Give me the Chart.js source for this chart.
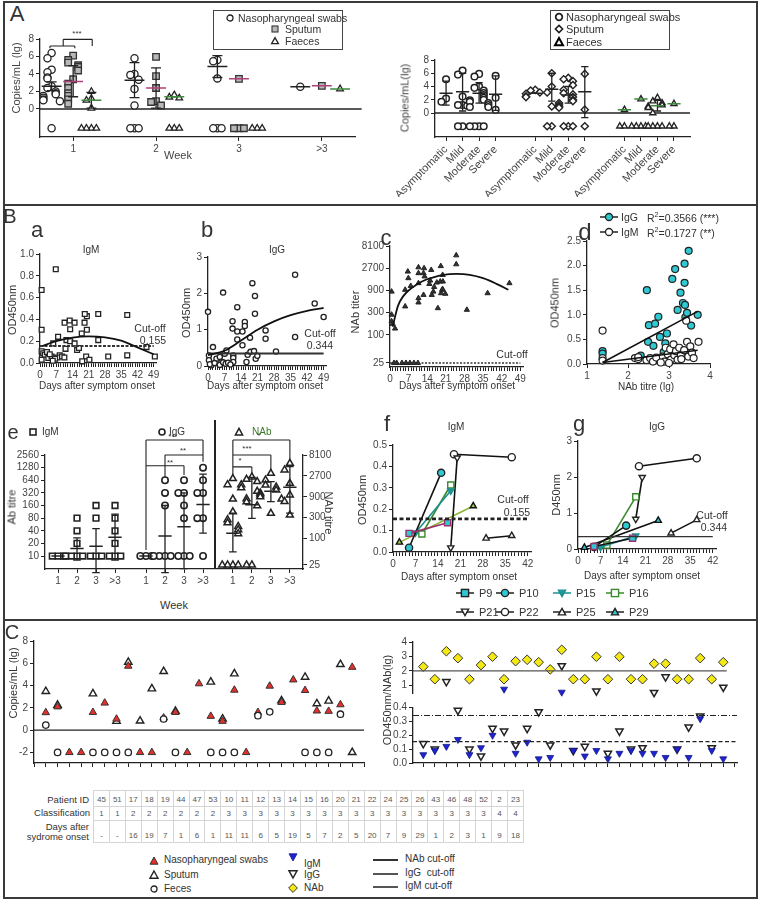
<!DOCTYPE html>
<html>
<head>
<meta charset="utf-8">
<script src="https://cdn.jsdelivr.net/npm/chart.js@4.4.1/dist/chart.umd.min.js"></script>
<style>
  body { margin: 0; background: #fff; }
  #fig { position: relative; width: 762px; height: 902px; overflow: hidden; font-family: 'Liberation Sans', Arial, sans-serif; color: #333; }
  .t { position: absolute; white-space: nowrap; line-height: 1; }
  .ln { position: absolute; background: #3a3a3a; }
  table.pt { position: absolute; left: 93px; top: 790px; width: 431px; table-layout: fixed; border-collapse: collapse; font-size: 8px; color: #555; }
  table.pt td { border: 1px solid #d5d5d5; text-align: center; vertical-align: bottom; padding: 0 0 2px 0; }
</style>
</head>
<body>
<div id="fig"></div>
<script>
// ---------- data : panel A (viral load, lg copies/mL; -2.2 / -2 = undetected row) ----------
const weekLabels = ['1', '2', '3', '>3'];
const npWeek = [
  [6.4, 5.8, 4.5, 4.2, 3.6, 3.5, 2.6, 2.4, 2.0, 1.8, 1.7, 1.5, 1.3, 1.1, 1.0, 0.9, -2.2],
  [5.8, 4.0, 3.9, 3.35, 2.3, 0.4, -2.2, -2.2, -2.2],
  [5.6, 5.45, 3.5, -2.2, -2.2, -2.2],
  [2.55]
];
const sputumWeek = [
  [6.1, 5.6, 5.3, 5.0, 4.8, 4.4, 3.4, 2.9, 2.4, 1.8, 1.5, 1.1, 0.6],
  [5.95, 3.75, 2.4, 0.9, 0.8, 0.4],
  [3.45, -2.2, -2.2, -2.2],
  [2.65]
];
const faecesWeek = [
  [2.0, 1.2, 1.0, 0.1, -2.2, -2.2, -2.2, -2.2],
  [1.6, 1.35, 1.25, -2.2, -2.2, -2.2],
  [-2.2, -2.2, -2.2],
  [2.3]
];
const npWeekMean = [2.6, 3.3, 4.85, 2.55];
const npWeekLow = [2.1, 1.3, 3.6, null];
const npWeekHigh = [3.1, 5.3, 6.1, null];
const sputumWeekMean = [3.15, 2.4, 3.45, 2.65];
const sputumWeekLow = [1.4, 0.1, null, null];
const sputumWeekHigh = [4.95, 4.7, null, null];
const faecesWeekMean = [1.0, 1.4, null, 2.3];
const faecesWeekLow = [0.1, null, null, null];
const faecesWeekHigh = [1.9, null, null, null];

const severity = ['Asymptomatic', 'Mild', 'Moderate', 'Severe'];
const npSev = [
  [5.1, 2.2, 1.7],
  [6.4, 5.8, 2.5, 1.2, 1.2, 1.1, -2, -2],
  [5.9, 5.5, 4.0, 3.8, 3.4, 3.0, 2.7, 2.3, 2.0, 1.9, 1.7, 1.5, 1.2, 0.9, 0.9, -2, -2, -2, -2],
  [5.6, 2.3, 0.5]
];
const sputumSev = [
  [3.5, 3.4, 3.1, 2.9, 2.5, 2.4],
  [6.0, 4.0, 3.1, 1.0, -2, -2],
  [5.3, 5.1, 4.8, 4.2, 3.5, 3.0, 2.8, 2.4, 2.0, 1.8, 1.5, 1.2, 1.0, 0.8, -2, -2, -2],
  [5.9, 0.5, -2]
];
const faecesSev = [
  [0.5, -2, -2],
  [2.1, -2, -2, -2, -2],
  [2.3, 1.8, 1.5, 1.2, 1.0, 0.8, 0.0, -2, -2, -2, -2],
  [1.4, -2, -2]
];
const npSevMean = [3.0, 3.2, 3.0, 2.85];
const npSevLow = [1.2, 0.3, 1.5, 0.4];
const npSevHigh = [4.8, 6.0, 4.6, 5.6];
const sputumSevMean = [3.0, 3.6, 2.7, 3.2];
const sputumSevLow = [null, 1.8, 1.5, -0.7];
const sputumSevHigh = [null, 6.0, 4.0, 7.0];
const faecesSevMean = [0.5, 2.1, 1.1, 1.4];
const faecesSevLow = [null, null, 0.3, null];
const faecesSevHigh = [null, null, 1.9, null];

// ---------- data : panel B ----------
const igmDays = [0.7, 0.7, 6.8, 0.7, 1.4, 2.1, 0.7, 3.6, 5, 5.7, 7.8, 10.6, 12.8, 13, 14.9, 11.4, 13, 14.9, 11, 16, 16.8, 18, 19.2, 20.2, 19.3, 20.2, 19.9, 21.3, 18.2, 25.1, 25.1, 29.4, 37.6, 37.6, 45.9, 49.5, 8.5, 7.5, 9.5, 10.5, 6.5, 5.5, 3, 4.2];
const igmOD = [0.67, 0.305, 0.86, 0.107, 0.09, 0.076, 0.03, 0.046, 0.06, 0.18, 0.24, 0.37, 0.39, 0.31, 0.37, 0.21, 0.2, 0.18, 0.13, 0.12, 0.137, 0.27, 0.37, 0.43, 0.45, 0.305, 0.06, 0.03, 0.015, 0.45, 0.21, 0.06, 0.44, 0.07, 0.146, 0.06, 0.07, 0.05, 0.06, 0.05, 0.04, 0.02, 0.1, 0.08];
const igmFitDays = [1, 7, 14, 21, 28, 35, 42, 49];
const igmFitOD = [0.155, 0.2, 0.233, 0.245, 0.236, 0.205, 0.143, 0.08];

const iggDays = [0, 2.1, 0.4, 0.4, 1.4, 3.6, 6.4, 5, 5.7, 7.1, 7.8, 10.4, 10.4, 10.7, 10.7, 10.7, 12.4, 12.4, 14.6, 12.4, 14.6, 15.6, 15.6, 16.3, 16.8, 17.8, 18, 18.8, 19.5, 19.9, 19.9, 20.2, 20.9, 24.4, 24.4, 28.8, 36.9, 36.9, 45.2, 49, 0.8, 2.8, 5, 6.4, 7.5, 8.5, 9.5];
const iggOD = [1.49, 0.52, 0.29, 0.16, 0.02, 0.2, 2.02, 0.25, 0.11, 0.34, 0.43, 1.23, 1.03, 0.29, 0.22, 0.11, 1.62, 0.95, 0.95, 0.73, 0.57, 1.21, 1.1, 0.11, 0.31, 0.78, 0.39, 2.28, 0.41, 1.93, 1.44, 0.2, 0.28, 0.98, 0.75, 0.4, 2.51, 0.8, 1.72, 1.35, 0.05, 0.08, 0.03, 0.1, 0.06, 0.09, 0.04];
const iggFitDays = [0, 7, 14, 21, 28, 35, 42, 49];
const iggFitOD = [0.3, 0.42, 0.7, 1.0, 1.23, 1.4, 1.52, 1.6];

const nabDays = [0.6, 0.6, 0.6, 1.0, 1.9, 5.7, 5.7, 6.7, 6.9, 7.8, 10.7, 10.7, 10.7, 10.7, 10.7, 12.6, 12.6, 12.8, 13, 15.1, 14.8, 15.5, 16.3, 16.6, 15.7, 17.6, 18, 18.9, 19.1, 19.2, 19.6, 19.9, 19.8, 20.8, 19.8, 24.9, 24.9, 28.9, 36.7, 44.9];
const nabTiter = [850, 272, 196, 173, 137, 930, 409, 2290, 1650, 1125, 2820, 2115, 1290, 615, 497, 2115, 723, 2700, 1800, 1470, 1240, 2480, 850, 1070, 723, 1330, 375, 1400, 3000, 786, 930, 1400, 960, 764, 1940, 5100, 3280, 346, 786, 1290];
const nabLowDays = [1.5, 2.5, 4.5, 6, 7.5, 9, 10.5];
const nabLowTiter = [25, 25, 25, 25, 25, 25, 25];
const nabFitDays = [1, 3, 5, 8, 12, 16, 20, 25, 30, 35, 40, 44.5];
const nabFitTiter = [150, 420, 680, 1000, 1400, 1700, 1950, 2050, 1950, 1650, 1250, 930];

const corrIgGX = [1.38, 1.38, 2.31, 2.46, 2.51, 2.49, 2.62, 2.66, 2.74, 2.78, 2.87, 2.95, 2.91, 3.08, 3.15, 3.21, 3.28, 3.34, 3.38, 3.38, 3.39, 3.40, 3.44, 3.48, 3.54, 3.7];
const corrIgGY = [0.26, 0.21, 0.17, 1.5, 0.79, 0.45, 0.37, 0.82, 0.96, 0.55, 0.24, 0.62, 0.42, 1.73, 1.93, 1.1, 1.45, 1.24, 2.04, 1.65, 1.2, 0.95, 1.04, 2.3, 0.78, 1.0];
const corrIgMX = [1.38, 1.38, 1.38, 2.17, 2.25, 2.25, 2.45, 2.54, 2.61, 2.69, 2.85, 2.89, 2.92, 2.97, 3.03, 3.05, 3.11, 3.13, 3.17, 3.21, 3.25, 3.29, 3.37, 3.42, 3.44, 3.47, 3.52, 3.56, 3.72, 2.8, 3.0, 3.3, 3.6];
const corrIgMY = [0.68, 0.12, 0.07, 0.12, 0.1, 0.14, 0.08, 0.12, 0.05, 0.13, 0.15, 0.05, 0.33, 0.2, 0.3, 0.09, 0.4, 0.18, 0.26, 0.09, 0.33, 0.18, 0.28, 0.88, 0.45, 0.15, 0.36, 0.23, 0.45, 0.03, 0.02, 0.1, 0.12];
const corrFitX = [1.38, 3.7];
const corrIgGFit = [0.03, 1.07];
const corrIgMFit = [0.03, 0.28];

const titreIgM = [[10, 10, 10], [80, 40, 20, 10, 10, 10, 10], [160, 80, 10, 10, 10], [160, 80, 40, 20, 10, 10, 10]];
const titreIgG = [[10, 10, 10], [640, 320, 160, 10, 10, 10, 10], [640, 320, 320, 160, 80, 10, 10, 10], [1280, 640, 320, 320, 80, 80, 10]];
const titreNAb = [[2350, 1700, 800, 410, 270, 230, 190, 160, 130, 25, 25, 25, 25], [2560, 2250, 2000, 1700, 1440, 1200, 810, 690, 560, 25, 25], [3090, 2170, 1670, 1500, 1280, 1100, 1000, 900, 800, 378], [5230, 3690, 1830, 990, 700, 346]];
const titreIgMMean = [10, 15, 17, 28];
const titreIgMLow = [null, 8, 4, 8];
const titreIgMHigh = [null, 27, 45, 100];
const titreIgGMean = [10, 30, 50, 170];
const titreIgGLow = [null, 4, 5, 35];
const titreIgGHigh = [null, 160, 320, 900];
const titreNAbMean = [132, 590, 1200, 1480];
const titreNAbLow = [50, 290, 700, 380];
const titreNAbHigh = [380, 2500, 2000, 4400];

const trackIds = ['P9', 'P10', 'P15', 'P16', 'P21', 'P22', 'P25', 'P29'];
const trackDaysM = [[5, 17], [5, 15], [7, 18], [9, 18], [18, 20], [19, 37], [29, 37], [2, 25]];
const trackIgM = [[0.087, 0.137], [0.02, 0.37], [0.09, 0.286], [0.084, 0.313], [0.02, 0.44], [0.457, 0.443], [0.064, 0.076], [0.045, 0.215]];
const trackDaysG = [[5, 17], [5, 15], [7, 18], [9, 18], [18, 20], [19, 37], [29, 37], [2, 25]];
const trackIgG = [[0.07, 0.3], [0.06, 0.65], [0.05, 0.37], [0.11, 1.45], [0.83, 1.99], [2.3, 2.52], [0.44, 0.81], [0.04, 0.79]];

// ---------- data : panel C (one value per patient, null = not shown) ----------
const patientIds = ['45', '51', '17', '18', '19', '44', '47', '53', '10', '11', '12', '13', '14', '15', '16', '20', '21', '22', '24', '25', '26', '43', '46', '48', '52', '2', '23'];
const patientClass = ['1', '1', '2', '2', '2', '2', '2', '2', '3', '3', '3', '3', '3', '3', '3', '3', '3', '3', '3', '3', '3', '3', '3', '3', '3', '4', '4'];
const patientDays = ['-', '-', '16', '19', '7', '1', '6', '1', '11', '11', '6', '5', '19', '5', '7', '2', '5', '20', '7', '9', '29', '1', '2', '3', '1', '9', '18'];
const pNP = [1.58, 2.1, -2, -2, 1.6, 2.44, 1.0, 5.75, -2, -2, 1.1, 1.6, -2, 4.17, 1.25, 0.8, 3.6, -2, 1.6, 3.96, 2.5, 4.52, 3.57, 1.73, 1.7, 2.29, 5.65];
const pSputum = [3.48, 2.25, null, null, 3.27, null, 0.8, 6.1, 0.83, 3.72, 5.27, 1.7, null, null, 4.32, 1.0, 5.06, null, null, null, 2.65, null, 4.76, 2.38, 2.62, 5.9, -2];
const pFeces = [0.45, -2, null, null, -2, -2, -2, -2, null, null, 1.0, -2, null, null, -2, -2, -2, null, 1.3, 1.64, null, null, -2, -2, -2, 1.43, null];
const pNAb = [2.29, 1.42, 3.36, 2.88, 1.42, 2.4, 2.98, 1.42, 2.67, 2.77, 2.6, 2.1, 3.46, 1.42, 1.42, 2.98, 1.42, 2.98, 1.42, 1.42, 2.5, 2.5, 1.42, 1.42, 2.88, 1.42, 2.6];
const pIgG = [0.14, 0.10, 1.25, 0.38, 0.10, 0.05, 0.25, 0.23, 0.13, 0.25, 0.37, 0.13, 2.35, 0.09, 0.12, 0.6, 0.07, 0.23, 0.10, 0.11, 0.5, 1.58, 0.10, 0.26, 0.34, 0.11, 0.86];
const pIgM = [0.06, 0.09, 0.12, 0.17, 0.06, 0.11, 0.20, 0.73, 0.07, 0.15, 0.03, 0.04, 0.52, 0.09, 0.05, 0.09, 0.03, 0.07, 0.09, 0.07, 0.07, 0.04, 0.10, 0.04, 0.32, 0.09, 0.03];
const cutNAb = 2, cutIgG = 0.344, cutIgM = 0.155;

// ---------- helpers ----------
const INK = '#222';
const FONT = "'Liberation Sans', Arial, sans-serif";
const CYAN = '#2fc9d3', RED = '#e5302a', BLUE = '#1f22d6', YELLOW = '#f4e815';
const fig = document.getElementById('fig');

function txt(s, x, y, o) {
  o = o || {};
  const d = document.createElement('div');
  d.className = 't';
  d.innerHTML = s;
  const tx = o.align === 'l' ? '0' : (o.align === 'r' ? '-100%' : '-50%');
  d.style.left = x + 'px';
  d.style.top = y + 'px';
  d.style.fontSize = (o.size || 10) + 'px';
  d.style.color = o.color || '#333';
  if (o.weight) d.style.fontWeight = o.weight;
  d.style.transform = 'translate(' + tx + ',-50%)' + (o.rot ? ' rotate(' + o.rot + 'deg)' : '');
  fig.appendChild(d);
}
function box(x, y, w, h, css) {
  const d = document.createElement('div');
  d.className = 'ln';
  d.style.cssText = 'left:' + x + 'px;top:' + y + 'px;width:' + w + 'px;height:' + h + 'px;' + (css || '');
  fig.appendChild(d);
}
function mark(shape, fill, stroke, r, sw, lineW, lineColor) {
  const W = lineW || 2 * r + 4, H = 2 * r + 4, cx = W / 2, cy = H / 2;
  let s = '<svg width="' + W + '" height="' + H + '" style="display:block">';
  if (lineW) s += '<line x1="0" y1="' + cy + '" x2="' + W + '" y2="' + cy + '" stroke="' + lineColor + '" stroke-width="1.6"/>';
  const a = ' fill="' + fill + '" stroke="' + stroke + '" stroke-width="' + sw + '"';
  if (shape === 'circle') s += '<circle cx="' + cx + '" cy="' + cy + '" r="' + r + '"' + a + '/>';
  if (shape === 'square') s += '<rect x="' + (cx - r) + '" y="' + (cy - r) + '" width="' + 2 * r + '" height="' + 2 * r + '"' + a + '/>';
  if (shape === 'triangle') s += '<polygon points="' + cx + ',' + (cy - r) + ' ' + (cx + r) + ',' + (cy + r * 0.8) + ' ' + (cx - r) + ',' + (cy + r * 0.8) + '"' + a + '/>';
  if (shape === 'down') s += '<polygon points="' + cx + ',' + (cy + r) + ' ' + (cx + r) + ',' + (cy - r * 0.8) + ' ' + (cx - r) + ',' + (cy - r * 0.8) + '"' + a + '/>';
  if (shape === 'diamond') s += '<polygon points="' + cx + ',' + (cy - r) + ' ' + (cx + r) + ',' + cy + ' ' + cx + ',' + (cy + r) + ' ' + (cx - r) + ',' + cy + '"' + a + '/>';
  return s + '</svg>';
}

const range = (a, b) => Array.from({length: b - a + 1}, (_, i) => a + i);
const none = () => '';
const intLabel = v => String(v);
const fixed = n => v => v.toFixed(n);
const every7 = v => (v % 7 === 0 ? String(v) : '');

function axis(position, min, max, ticks, label, type) {
  return {
    type: type || 'linear', position, min, max, bounds: 'data',
    grid: {display: true, drawOnChartArea: false, drawTicks: true, tickLength: 4, color: INK, lineWidth: 1},
    border: {display: true, color: INK, width: 1.3},
    ticks: {font: {family: FONT, size: 10}, color: '#444', padding: 2, autoSkip: false,
      maxRotation: 0, minRotation: 0, callback: v => label(v)},
    afterBuildTicks: s => { s.ticks = ticks.map(v => ({value: v})); }
  };
}

function makeChart(plot, pad, scales, datasets) {
  const [x0, y0, x1, y1] = plot;
  const w = Math.round(x1 - x0 + pad.l + pad.r), h = Math.round(y1 - y0 + pad.t + pad.b);
  const cv = document.createElement('canvas');
  cv.width = w; cv.height = h;
  cv.style.cssText = 'position:absolute;left:' + (x0 - pad.l) + 'px;top:' + (y0 - pad.t) + 'px;width:' + w + 'px;height:' + h + 'px';
  fig.appendChild(cv);
  const side = {};
  Object.values(scales).forEach(s => {
    if (s.display === false) return;
    side[s.position] = true;
    s.afterFit = sc => {
      if (sc.position === 'bottom') sc.height = pad.b;
      else if (sc.position === 'left') sc.width = pad.l;
      else if (sc.position === 'right') sc.width = pad.r;
      sc.paddingLeft = sc.paddingRight = sc.paddingTop = sc.paddingBottom = 0;
    };
  });
  return new Chart(cv, {
    type: 'scatter',
    data: {datasets},
    options: {
      responsive: false, animation: false, devicePixelRatio: 1, events: [],
      layout: {padding: {left: side.left ? 0 : pad.l, right: side.right ? 0 : pad.r, top: pad.t, bottom: side.bottom ? 0 : pad.b}},
      plugins: {legend: {display: false}, tooltip: {enabled: false}},
      scales
    }
  });
}

function pts(points, style) {
  return Object.assign({type: 'scatter', data: points, showLine: false, clip: false,
    pointRadius: 3.5, pointHoverRadius: 3.5, borderWidth: 1.3, borderColor: INK,
    backgroundColor: '#fff', pointStyle: 'circle'}, style);
}
function segs(pairs, color, width, dash, extra) {
  const data = [];
  pairs.forEach(p => { data.push({x: p[0], y: p[1]}, {x: p[2], y: p[3]}, {x: p[2], y: null}); });
  return Object.assign({type: 'line', data, borderColor: color, borderWidth: width || 1.3, borderDash: dash || [],
    pointRadius: 0, pointHoverRadius: 0, spanGaps: false, clip: false, fill: false, tension: 0}, extra || {});
}
function curve(xs, ys, color, width, extra) {
  return Object.assign({type: 'line', data: xs.map((x, i) => ({x, y: ys[i]})), borderColor: color, borderWidth: width || 1.8,
    pointRadius: 0, pointHoverRadius: 0, fill: false, tension: 0.4, cubicInterpolationMode: 'monotone', clip: false}, extra || {});
}
// simple column scatter: points at similar heights are put side by side (at most `wide` slots each side)
function swarm(values, cx, step, tol, f, wide) {
  f = f || (v => v);
  wide = wide || 3;
  const placed = [];
  return values.map(v => {
    const fv = f(v);
    let k = placed.filter(p => Math.abs(p - fv) < tol).length;
    placed.push(fv);
    k = k % (2 * wide + 1);
    const off = k === 0 ? 0 : (k % 2 ? -1 : 1) * Math.ceil(k / 2) * step;
    return {x: cx + off, y: v};
  });
}
function meanLines(xs, means, half, color, extra) {
  const p = [];
  xs.forEach((x, i) => { if (means[i] != null) p.push([x - half, means[i], x + half, means[i]]); });
  return segs(p, color, 1.5, [], extra);
}
function errBars(xs, lows, highs, cap, extra) {
  const p = [];
  xs.forEach((x, i) => {
    if (lows[i] == null) return;
    p.push([x, lows[i], x, highs[i]], [x - cap, lows[i], x + cap, lows[i]], [x - cap, highs[i], x + cap, highs[i]]);
  });
  return segs(p, INK, 1.3, [], extra);
}
const flat = a => [].concat(...a);

// ---------- frame ----------
box(3, 1, 755, 2); box(3, 1, 2, 898); box(756, 1, 2, 898); box(3, 897, 755, 2);
box(3, 204, 755, 2); box(3, 619, 755, 2);

// ---------- A left : by week ----------
const wkOff = [-0.26, 0, 0.22];
const wkX = k => weekLabels.map((w, i) => i + 1 + wkOff[k]);
makeChart([40, 39, 355, 137], {l: 26, t: 12, r: 12, b: 22}, {
  x: axis('bottom', 0.6, 4.4, [1, 2, 3, 4], v => weekLabels[v - 1]),
  y: axis('left', -3.2, 8, [0, 2, 4, 6, 8], intLabel)
}, [
  meanLines(wkX(0), npWeekMean, 0.12, INK),
  errBars(wkX(0), npWeekLow, npWeekHigh, 0.06),
  meanLines(wkX(1), sputumWeekMean, 0.12, '#b0407a'),
  errBars(wkX(1), sputumWeekLow, sputumWeekHigh, 0.06),
  meanLines(wkX(2), faecesWeekMean, 0.12, '#3c8c3c'),
  errBars(wkX(2), faecesWeekLow, faecesWeekHigh, 0.06),
  pts(flat(npWeek.map((v, i) => swarm(v, wkX(0)[i], 0.05, 0.7, null, 2))), {pointRadius: 3.6, borderWidth: 1.3}),
  pts(flat(sputumWeek.map((v, i) => swarm(v, wkX(1)[i], 0.06, 0.7, null, 2))), {pointStyle: 'rect', pointRadius: 4.6, backgroundColor: '#b8b8b8', borderColor: '#333'}),
  pts(flat(faecesWeek.map((v, i) => swarm(v, wkX(2)[i], 0.06, 0.7, null, 2))), {pointStyle: 'triangle', pointRadius: 3.8}),
  segs([[0.6, 0, 4.48, 0]], INK, 1.3),
  segs([[0.72, 7.2, 1.02, 7.2], [0.72, 7.2, 0.72, 6.95], [1.02, 7.2, 1.02, 6.95], [0.88, 7.2, 0.88, 7.96], [0.88, 7.96, 1.23, 7.96], [1.23, 7.96, 1.23, 7.2]], INK, 1.1)
]);
txt('A', 17, 14, {size: 22});
txt('Copies/mL (lg)', 16, 78, {size: 11, rot: -90, color: '#444'});
txt('Week', 178, 155, {size: 11, color: '#444'});
txt('***', 77, 34, {size: 8});
box(213, 10, 130, 40, 'background:none;border:1px solid #444;box-sizing:border-box;');
txt(mark('circle', '#fff', INK, 3, 1.3), 230, 18);
txt('Nasopharyngeal swabs', 238, 18, {align: 'l', size: 10.5});
txt(mark('square', '#b8b8b8', '#333', 3, 1.1), 275, 29);
txt('Sputum', 285, 29, {align: 'l', size: 10.5});
txt(mark('triangle', '#fff', INK, 3.4, 1.3), 275, 41);
txt('Faeces', 285, 41, {align: 'l', size: 10.5});

// ---------- A right : by severity ----------
const sevStart = [0, 5.4, 10.8];
const sevPos = flat(sevStart.map(s => severity.map((c, i) => +(s + i).toFixed(2))));
const sevX = g => severity.map((c, i) => sevStart[g] + i);
const aRight = makeChart([435, 60, 690, 137], {l: 58, t: 10, r: 8, b: 60}, {
  x: axis('bottom', -0.67, 14.77, sevPos, v => severity[sevPos.indexOf(v) % 4]),
  y: axis('left', -3.62, 8, [0, 2, 4, 6, 8], intLabel)
}, [
  meanLines(sevX(0), npSevMean, 0.4, INK),
  errBars(sevX(0), npSevLow, npSevHigh, 0.22),
  meanLines(sevX(1), sputumSevMean, 0.4, INK),
  errBars(sevX(1), sputumSevLow, sputumSevHigh, 0.22),
  meanLines(sevX(2), faecesSevMean, 0.4, '#3c8c3c'),
  errBars(sevX(2), faecesSevLow, faecesSevHigh, 0.22),
  pts(flat(npSev.map((v, i) => swarm(v, sevX(0)[i], 0.28, 0.9, null, 2))), {pointRadius: 3.3, borderWidth: 1.5}),
  pts(flat(sputumSev.map((v, i) => swarm(v, sevX(1)[i], 0.28, 0.9, null, 2))), {pointStyle: 'rectRot', pointRadius: 3.6, borderWidth: 1.4}),
  pts(flat(faecesSev.map((v, i) => swarm(v, sevX(2)[i], 0.28, 0.9, null, 2))), {pointStyle: 'triangle', pointRadius: 3.5, borderWidth: 1.4}),
  segs([[-0.67, 0, 14.77, 0]], INK, 1.3)
]);
aRight.options.scales.x.ticks.maxRotation = 45;
aRight.options.scales.x.ticks.minRotation = 45;
aRight.options.scales.x.ticks.font = {family: FONT, size: 11};
aRight.update();
txt('Copies/mL(lg)', 405, 98, {size: 11, rot: -90, color: '#444'});
box(550, 10, 120, 40, 'background:none;border:1px solid #444;box-sizing:border-box;');
txt(mark('circle', '#fff', INK, 3.3, 1.8), 559, 17);
txt('Nasopharyngeal swabs', 566, 17, {align: 'l', size: 11});
txt(mark('diamond', '#fff', INK, 3.6, 1.6), 559, 29);
txt('Sputum', 566, 29, {align: 'l', size: 11});
txt(mark('triangle', '#fff', '#000', 4, 2), 559, 42);
txt('Faeces', 566, 42, {align: 'l', size: 11});

// ---------- B a : IgM vs days ----------
txt('B', 10, 216, {size: 20});
makeChart([40, 254, 155.5, 363], {l: 28, t: 8, r: 6, b: 16}, {
  x: axis('bottom', 0, 50, range(0, 49), every7),
  y: axis('left', 0, 1, [0, 0.2, 0.4, 0.6, 0.8, 1.0], fixed(1))
}, [
  curve(igmFitDays, igmFitOD, '#111', 1.8),
  segs([[0, cutIgM, 49, cutIgM]], '#333', 2, [3, 1.5]),
  pts(igmDays.map((d, i) => ({x: d, y: igmOD[i]})), {pointStyle: 'rect', pointRadius: 3.4, borderWidth: 1.3})
]);
txt('a', 37, 230, {size: 22});
txt('IgM', 91, 250, {size: 10});
txt('Cut-off', 150, 328, {size: 10.5});
txt('0.155', 153, 340, {size: 10.5});
txt('OD450nm', 12, 310, {size: 11, rot: -90});
txt('Days after symptom onset', 97, 386, {size: 10});

// ---------- B b : IgG vs days ----------
makeChart([208, 257, 325.5, 366], {l: 20, t: 8, r: 6, b: 16}, {
  x: axis('bottom', 0, 50, range(0, 49), every7),
  y: axis('left', 0, 3, [0, 1, 2, 3], intLabel)
}, [
  curve(iggFitDays, iggFitOD, '#111', 1.8),
  segs([[0, cutIgG, 49, cutIgG]], '#333', 1.8),
  pts(iggDays.map((d, i) => ({x: d, y: iggOD[i]})), {pointRadius: 2.6, borderWidth: 1.3})
]);
txt('b', 207, 230, {size: 22});
txt('IgG', 277, 250, {size: 10});
txt('Cut-off', 320, 333, {size: 10.5});
txt('0.344', 320, 345, {size: 10.5});
txt('OD450nm', 186, 313, {size: 11, rot: -90});
txt('Days after symptom onset', 265, 386, {size: 10});

// ---------- B c : NAb vs days ----------
makeChart([390, 246, 522.5, 367], {l: 30, t: 8, r: 6, b: 16}, {
  x: axis('bottom', 0, 50, range(0, 49), every7),
  y: axis('left', 20.5, 8100, [25, 100, 300, 900, 2700, 8100], intLabel, 'logarithmic')
}, [
  curve(nabFitDays, nabFitTiter, '#111', 1.8),
  segs([[0, 25, 49, 25]], '#333', 1.6, [2, 1.5]),
  pts(nabLowDays.map((d, i) => ({x: d, y: nabLowTiter[i]})), {pointStyle: 'triangle', pointRadius: 3, backgroundColor: '#333', borderWidth: 1}),
  pts(nabDays.map((d, i) => ({x: d, y: nabTiter[i]})), {pointStyle: 'triangle', pointRadius: 3, backgroundColor: '#333', borderWidth: 1})
]);
txt('c', 386, 238, {size: 22});
txt('Cut-off', 512, 354, {size: 10.5});
txt('NAb titer', 355, 312, {size: 11, rot: -90});
txt('Days after symptom onset', 457, 386, {size: 10});

// ---------- B d : OD vs NAb ----------
makeChart([587, 241, 710, 364], {l: 28, t: 8, r: 8, b: 16}, {
  x: axis('bottom', 1, 4, [1, 2, 3, 4], intLabel),
  y: axis('left', 0, 2.5, [0, 0.5, 1, 1.5, 2, 2.5], fixed(1))
}, [
  curve(corrFitX, corrIgGFit, '#111', 1.6, {tension: 0}),
  curve(corrFitX, corrIgMFit, '#111', 1.6, {tension: 0}),
  pts(corrIgMX.map((x, i) => ({x, y: corrIgMY[i]})), {pointRadius: 3.5, borderWidth: 1.2}),
  pts(corrIgGX.map((x, i) => ({x, y: corrIgGY[i]})), {pointRadius: 3.5, borderWidth: 1.2, backgroundColor: CYAN})
]);
txt('d', 585, 232, {size: 24});
txt(mark('circle', CYAN, INK, 3.5, 1.3, 18, INK), 609, 217);
txt('IgG', 621, 217, {align: 'l', size: 10.5});
txt('R<sup style="font-size:7px">2</sup>=0.3566 (***)', 647, 217, {align: 'l', size: 10.5});
txt(mark('circle', '#fff', INK, 3.5, 1.3, 18, INK), 609, 232);
txt('IgM', 621, 232, {align: 'l', size: 10.5});
txt('R<sup style="font-size:7px">2</sup>=0.1727 (**)', 647, 232, {align: 'l', size: 10.5});
txt('OD450nm', 555, 303, {size: 11, rot: -90});
txt('NAb titre (lg)', 646, 387, {size: 10});

// ---------- B e : titres by week ----------
const eStart = [0, 4.63, 9.2];
const ePos = flat(eStart.map(s => weekLabels.map((w, i) => +(s + i).toFixed(2))));
const eX = g => weekLabels.map((w, i) => eStart[g] + i);
const eScales = {
  x: axis('bottom', -0.684, 12.89, ePos, v => weekLabels[ePos.indexOf(v) % 4]),
  y: axis('left', 4.9, 2560, [10, 20, 40, 80, 160, 320, 640, 1280, 2560], intLabel, 'logarithmic'),
  y2: axis('right', 20.26, 8100, [25, 100, 300, 900, 2700, 8100], intLabel, 'logarithmic')
};
makeChart([45, 455, 303, 569], {l: 30, t: 26, r: 30, b: 18}, eScales, [
  meanLines(eX(0), titreIgMMean, 0.35, INK),
  errBars(eX(0), titreIgMLow, titreIgMHigh, 0.2),
  meanLines(eX(1), titreIgGMean, 0.35, INK),
  errBars(eX(1), titreIgGLow, titreIgGHigh, 0.2),
  meanLines(eX(2), titreNAbMean, 0.35, INK, {yAxisID: 'y2'}),
  errBars(eX(2), titreNAbLow, titreNAbHigh, 0.2, {yAxisID: 'y2'}),
  pts(flat(titreIgM.map((v, i) => swarm(v, eX(0)[i], 0.3, 0.6, Math.log2))), {pointStyle: 'rect', pointRadius: 4, borderWidth: 1.6}),
  pts(flat(titreIgG.map((v, i) => swarm(v, eX(1)[i], 0.3, 0.6, Math.log2))), {pointRadius: 3.2, borderWidth: 1.6}),
  pts(flat(titreNAb.map((v, i) => swarm(v, eX(2)[i], 0.28, 0.45, v2 => Math.log(v2) / Math.log(3)))), {pointStyle: 'triangle', pointRadius: 4, borderWidth: 1.5, yAxisID: 'y2'}),
  segs([[4.63, 13.9, 4.63, 5840], [4.63, 5840, 7.63, 5840], [7.63, 5840, 7.63, 1770],
        [5.63, 765, 5.63, 2560], [5.63, 2560, 7.63, 2560],
        [4.63, 1420, 6.63, 1420], [6.63, 1420, 6.63, 850]], INK, 1.1),
  segs([[9.2, 2690, 9.2, 17800], [9.2, 17800, 12.2, 17800], [12.2, 17800, 12.2, 5990],
        [9.2, 8100, 11.2, 8100], [11.2, 8100, 11.2, 3680],
        [9.2, 4330, 10.2, 4330], [10.2, 4330, 10.2, 3010]], INK, 1.1, [], {yAxisID: 'y2'})
]);
box(214, 420, 1.5, 149, 'background:#222;');
txt('e', 13, 432, {size: 20});
txt(mark('square', '#fff', INK, 3, 1.6), 33, 432);
txt('IgM', 42, 432, {align: 'l', size: 10});
txt(mark('circle', '#fff', INK, 3, 1.6), 162, 432);
txt('IgG', 169, 432, {align: 'l', size: 10});
txt(mark('triangle', '#fff', INK, 3.6, 1.5), 239, 432);
txt('NAb', 252, 432, {align: 'l', size: 10, color: '#3a7a2a'});
txt('***', 173, 437, {size: 8}); txt('**', 183, 451, {size: 8}); txt('**', 170, 463, {size: 8});
txt('*', 259, 436, {size: 8}); txt('***', 247, 449, {size: 8}); txt('*', 240, 461, {size: 8});
txt('Ab titre', 12, 507, {size: 11, rot: -90});
txt('NAb titre', 328, 513, {size: 11, rot: 90});
txt('Week', 174, 605, {size: 11});

// ---------- B f / g : patient tracks ----------
const trackShape = ['rect', 'circle', 'triangle', 'rect', 'triangle', 'circle', 'triangle', 'triangle'];
const trackRot = [0, 0, 180, 0, 180, 0, 0, 0];
const trackFill = [CYAN, CYAN, '#1d9a9a', '#fff', '#fff', '#fff', '#fff', CYAN];
const trackEdge = ['#9c2f6c', INK, '#1d8f8f', '#3b8a2e', INK, INK, INK, '#111'];
const fLine = ['#9c2f6c', '#111', '#1d8f8f', '#3b8a2e', '#111', '#111', '#111', '#8db33a'];
const gLine = ['#111', '#111', '#1d8f8f', '#3b8a2e', '#111', '#111', '#111', '#111'];
function trackSets(days, vals, lineCols, fillOverride) {
  return trackIds.map((id, k) => ({
    type: 'line', data: days[k].map((d, i) => ({x: d, y: vals[k][i]})), borderColor: lineCols[k], borderWidth: 1.6,
    pointStyle: trackShape[k], pointRotation: trackRot[k], pointRadius: trackShape[k] === 'rect' ? 4.3 : 3.6,
    pointBackgroundColor: (fillOverride && fillOverride[k]) || trackFill[k], pointBorderColor: trackEdge[k], pointBorderWidth: 1.4,
    tension: 0, fill: false, clip: false
  }));
}
makeChart([393, 445, 530.6, 552], {l: 24, t: 8, r: 6, b: 16}, {
  x: axis('bottom', 0, 43, range(0, 42), every7),
  y: axis('left', 0, 0.5, [0, 0.1, 0.2, 0.3, 0.4, 0.5], fixed(1))
}, [segs([[0, cutIgM, 42, cutIgM]], '#222', 2.6, [4, 2.5])].concat(
  trackSets(trackDaysM, trackIgM, fLine, [null, null, null, null, null, null, null, '#9acb4a'])));
txt('f', 387, 424, {size: 22});
txt('IgM', 456, 427, {size: 10});
txt('Cut-off', 513, 499, {size: 10.5});
txt('0.155', 517, 512, {size: 10.5});
txt('OD450nm', 362, 500, {size: 11, rot: -90});
txt('Days after symptom onset', 459, 577, {size: 10});

makeChart([578, 441, 715.6, 549], {l: 20, t: 8, r: 6, b: 16}, {
  x: axis('bottom', 0, 43, range(0, 42), every7),
  y: axis('left', 0, 3, [0, 1, 2, 3], intLabel)
}, [segs([[0, cutIgG, 42, cutIgG]], '#333', 1.4)].concat(trackSets(trackDaysG, trackIgG, gLine)));
txt('g', 579, 424, {size: 22});
txt('IgG', 657, 427, {size: 10});
txt('Cut-off', 712, 515, {size: 10.5});
txt('0.344', 714, 527, {size: 10.5});
txt('D450nm', 556, 495, {size: 11, rot: -90});
txt('Days after symptom onset', 642, 576, {size: 10});

const legShape = ['square', 'circle', 'down', 'square', 'down', 'circle', 'triangle', 'triangle'];
const legX = [465, 505, 562, 615];
trackIds.forEach((id, k) => {
  const x = legX[k % 4], y = k < 4 ? 593 : 612;
  const edge = k === 3 ? '#3b8a2e' : (k === 2 ? '#1d8f8f' : INK);
  const lc = k === 3 ? '#3b8a2e' : (k === 2 ? '#1d8f8f' : INK);
  txt(mark(legShape[k], trackFill[k], edge, 3.6, 1.4, 18, lc), x, y);
  txt(id, x + 14, y, {align: 'l', size: 11});
});

// ---------- C left : viral load per patient ----------
const pX = patientIds.map((p, i) => i + 1);
const present = (arr) => pX.map((x, i) => ({x, y: arr[i]})).filter(p => p.y != null);
makeChart([34, 641, 364, 763], {l: 18, t: 8, r: 6, b: 8}, {
  x: axis('bottom', 0, 28, range(0, 28), none),
  y: axis('left', -2.95, 8, [-2, 0, 2, 4, 6, 8], intLabel)
}, [
  segs([[0, 0, 28, 0]], INK, 1.3),
  pts(present(pFeces), {pointRadius: 3.2, borderWidth: 1.3}),
  pts(present(pNP), {pointStyle: 'triangle', pointRadius: 4.3, borderWidth: 1, backgroundColor: RED, borderColor: '#333'}),
  pts(present(pSputum), {pointStyle: 'triangle', pointRadius: 4.3, borderWidth: 1.4})
]);
txt('C', 12, 632, {size: 20});
txt('Copies/mL (lg)', 13, 683, {size: 11, rot: -90});

// ---------- C right : antibodies per patient (broken axis) ----------
const hi = v => v >= 0.45, lo = v => v < 0.45;
const pick = (arr, f) => pX.map((x, i) => ({x, y: arr[i]})).filter(p => f(p.y));
makeChart([413, 642, 737, 699], {l: 22, t: 8, r: 6, b: 0}, {
  x: Object.assign(axis('bottom', 0.107, 28.19, [], none), {display: false}),
  y: axis('left', 0.45, 4, [1, 2, 3, 4], intLabel)
}, [
  segs([[0.107, cutNAb, 27.3, cutNAb]], '#555', 1.4),
  pts(pick(pIgM, hi), {pointStyle: 'triangle', pointRotation: 180, pointRadius: 4, borderWidth: 0.8, backgroundColor: BLUE, borderColor: '#111a80'}),
  pts(pick(pIgG, hi), {pointStyle: 'triangle', pointRotation: 180, pointRadius: 4.2, borderWidth: 1.5}),
  pts(pick(pNAb, hi), {pointStyle: 'rectRot', pointRadius: 4.8, borderWidth: 1, backgroundColor: YELLOW, borderColor: '#333'})
]);
makeChart([413, 706, 737, 763], {l: 22, t: 4, r: 6, b: 8}, {
  x: axis('bottom', 0.107, 28.19, range(1, 28), none),
  y: axis('left', 0, 0.4, [0, 0.1, 0.2, 0.3, 0.4], fixed(1))
}, [
  segs([[0.107, cutIgG, 28.19, cutIgG]], '#222', 1.1, [6, 2, 1, 2]),
  segs([[0.107, cutIgM, 28.19, cutIgM]], '#222', 1.3, [4, 2.5]),
  pts(pick(pIgM, lo), {pointStyle: 'triangle', pointRotation: 180, pointRadius: 4, borderWidth: 0.8, backgroundColor: BLUE, borderColor: '#111a80'}),
  pts(pick(pIgG, lo), {pointStyle: 'triangle', pointRotation: 180, pointRadius: 4.2, borderWidth: 1.5})
]);
txt('OD450nm/NAb(lg)', 387, 700, {size: 11, rot: -90});

// ---------- C table ----------
let tbl = '<table class="pt">';
[[patientIds, 16], [patientClass, 14], [patientDays, 22]].forEach(r => {
  tbl += '<tr style="height:' + r[1] + 'px">' + r[0].map(v => '<td>' + v + '</td>').join('') + '</tr>';
});
fig.insertAdjacentHTML('beforeend', tbl + '</table>');
txt('Patient ID', 89, 800, {align: 'r', size: 9.5});
txt('Classification', 90, 813, {align: 'r', size: 9.5});
txt('Days after', 89, 827, {align: 'r', size: 9.5});
txt('sydrome onset', 89, 837, {align: 'r', size: 9.5});

// ---------- C legend ----------
txt(mark('triangle', RED, '#333', 4, 1), 154, 861);
txt('Nasopharyngeal swabs', 164, 860, {align: 'l', size: 10});
txt(mark('triangle', '#fff', INK, 4, 1.4), 154, 875);
txt('Sputum', 164, 875, {align: 'l', size: 10});
txt(mark('circle', '#fff', INK, 3, 1.3), 154, 889);
txt('Feces', 164, 889, {align: 'l', size: 10});
txt(mark('down', BLUE, '#111a80', 4, 0.8), 293, 857);
txt('IgM', 304, 864, {align: 'l', size: 10});
txt(mark('down', '#fff', INK, 4, 1.5), 293, 874);
txt('IgG', 304, 875, {align: 'l', size: 10});
txt(mark('diamond', YELLOW, '#333', 4.4, 1), 293, 888);
txt('NAb', 304, 888, {align: 'l', size: 10});
box(373, 859, 25, 1.5, 'background:#333;');
box(373, 873, 25, 1.5, 'background:#555;');
box(373, 886, 25, 1.5, 'background:#555;');
txt('NAb cut-off', 405, 859, {align: 'l', size: 10});
txt('IgG&nbsp; cut-off', 405, 873, {align: 'l', size: 10});
txt('IgM cut-off', 405, 886, {align: 'l', size: 10});
</script>
</body>
</html>
